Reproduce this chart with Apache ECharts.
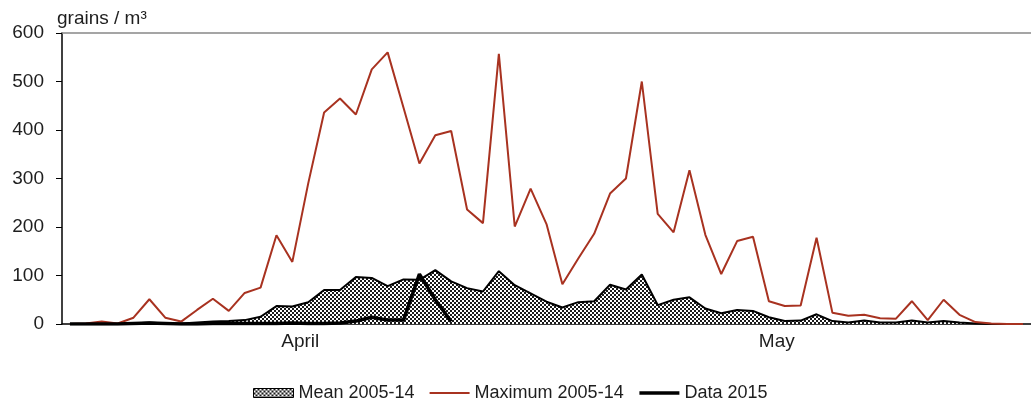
<!DOCTYPE html>
<html>
<head>
<meta charset="utf-8">
<title>Pollen grains / m³</title>
<script src="https://cdn.jsdelivr.net/npm/echarts@6/dist/echarts.min.js"></script>
<style>
  html, body { margin: 0; padding: 0; background: #fff; }
  #chart { width: 1031px; height: 405px; }
</style>
</head>
<body>
<div id="chart"></div>
<script>
// daily categories, 1 April .. 31 May
const days = [];
for (let d = 1; d <= 30; d++) days.push("Apr " + d);
for (let d = 1; d <= 31; d++) days.push("May " + d);

// month names sit at the middle of each month
const monthLabels = { 15: "April", 45: "May" };
const monthTicks = [0, 30];

const meanValues = [
  0, 0, 1, 0, 1, 3, 1, 1, 3, 5,
  6, 8, 15, 37, 36, 45, 70, 70, 97, 95,
  78, 92, 91, 111, 88, 74, 67, 109, 80, 63,
  46, 34, 45, 47, 81, 71, 102, 39, 50, 55,
  32, 22, 29, 27, 14, 6, 7, 20, 6, 3,
  7, 3, 3, 7, 3, 6, 3, 1, 0, 0,
  0
];

const maxValues = [
  0, 1, 5, 1, 13, 51, 13, 5, 29, 52,
  27, 64, 75, 183, 128, 290, 436, 465, 432, 525,
  560, 446, 331, 389, 398, 236, 208, 557, 201, 279,
  206, 82, 135, 186, 269, 300, 500, 227, 189, 317,
  184, 103, 171, 180, 47, 37, 38, 178, 23, 17,
  19, 12, 11, 47, 8, 50, 19, 4, 1, 0,
  0
];

// 2015 season only runs up to 25 April
const data2015 = [
  0, 0, 0, 0, 1, 2, 1, 0, 0, 1,
  1, 1, 1, 1, 2, 1, 1, 2, 6, 14,
  8, 8, 103, 50, 5
];

const RED = "#a83220";
const TEXT = "#1e1e1e";

// small checkerboard used for the mean area
function checkerPattern() {
  const c = document.createElement("canvas");
  c.width = 4;
  c.height = 4;
  const ctx = c.getContext("2d");
  ctx.fillStyle = "#ffffff";
  ctx.fillRect(0, 0, 4, 4);
  ctx.fillStyle = "#1a1a1a";
  ctx.fillRect(0, 0, 2, 2);
  ctx.fillRect(2, 2, 2, 2);
  return c;
}
const checker = { image: checkerPattern(), repeat: "repeat" };

const chart = echarts.init(document.getElementById("chart"), null, { renderer: "canvas" });

chart.setOption({
  animation: false,
  textStyle: { fontFamily: "Liberation Sans, Arial, sans-serif" },
  grid: { left: 62, top: 33, width: 979, height: 291, containLabel: false },
  graphic: [
    {
      type: "text",
      left: 57,
      top: 9,
      style: { text: "grains / m³", fill: TEXT, font: "19px Liberation Sans, Arial, sans-serif" }
    }
  ],
  legend: {
    left: 248,
    top: 379,
    itemWidth: 40,
    itemHeight: 9,
    itemGap: 14,
    textStyle: { color: TEXT, fontSize: 18 },
    data: [
      { name: "Mean 2005-14", icon: "rect", itemStyle: { color: checker, borderColor: "#000", borderWidth: 1 } },
      { name: "Maximum 2005-14", itemStyle: { opacity: 0 }, lineStyle: { width: 2 } },
      { name: "Data 2015", itemStyle: { opacity: 0 }, lineStyle: { width: 3.5 } }
    ]
  },
  xAxis: [
    {
      type: "category",
      data: days,
      boundaryGap: true,
      axisLine: { lineStyle: { color: "#000", width: 1.5 } },
      axisTick: {
        length: 4,
        lineStyle: { color: "#888" },
        interval: (i) => monthTicks.includes(i)
      },
      axisLabel: {
        interval: (i) => monthLabels[i] !== undefined,
        formatter: (v, i) => monthLabels[i] || "",
        color: TEXT,
        fontSize: 19,
        margin: 8,
        padding: [0, 16, 0, 0]
      },
      splitLine: { show: false }
    },
    {
      // plain grey frame line along the 600 level
      type: "category",
      data: days,
      position: "top",
      axisLine: { lineStyle: { color: "#888", width: 1.5 } },
      axisTick: { show: false },
      axisLabel: { show: false }
    }
  ],
  yAxis: {
    type: "value",
    min: 0,
    max: 600,
    interval: 100,
    axisLine: { show: true, lineStyle: { color: "#000", width: 1.5 } },
    axisTick: { show: true, length: 6, lineStyle: { color: "#000" } },
    axisLabel: { color: TEXT, fontSize: 19, margin: 18 },
    splitLine: { show: false }
  },
  series: [
    {
      name: "Mean 2005-14",
      type: "line",
      data: meanValues,
      symbol: "none",
      lineStyle: { color: "#000", width: 2 },
      itemStyle: { color: "#000" },
      areaStyle: { color: checker, opacity: 1 },
      z: 2
    },
    {
      name: "Maximum 2005-14",
      type: "line",
      data: maxValues,
      symbol: "none",
      lineStyle: { color: RED, width: 2 },
      itemStyle: { color: RED },
      z: 3
    },
    {
      name: "Data 2015",
      type: "line",
      data: data2015,
      symbol: "none",
      lineStyle: { color: "#000", width: 3.5 },
      itemStyle: { color: "#000" },
      z: 4
    }
  ]
});
</script>
</body>
</html>
